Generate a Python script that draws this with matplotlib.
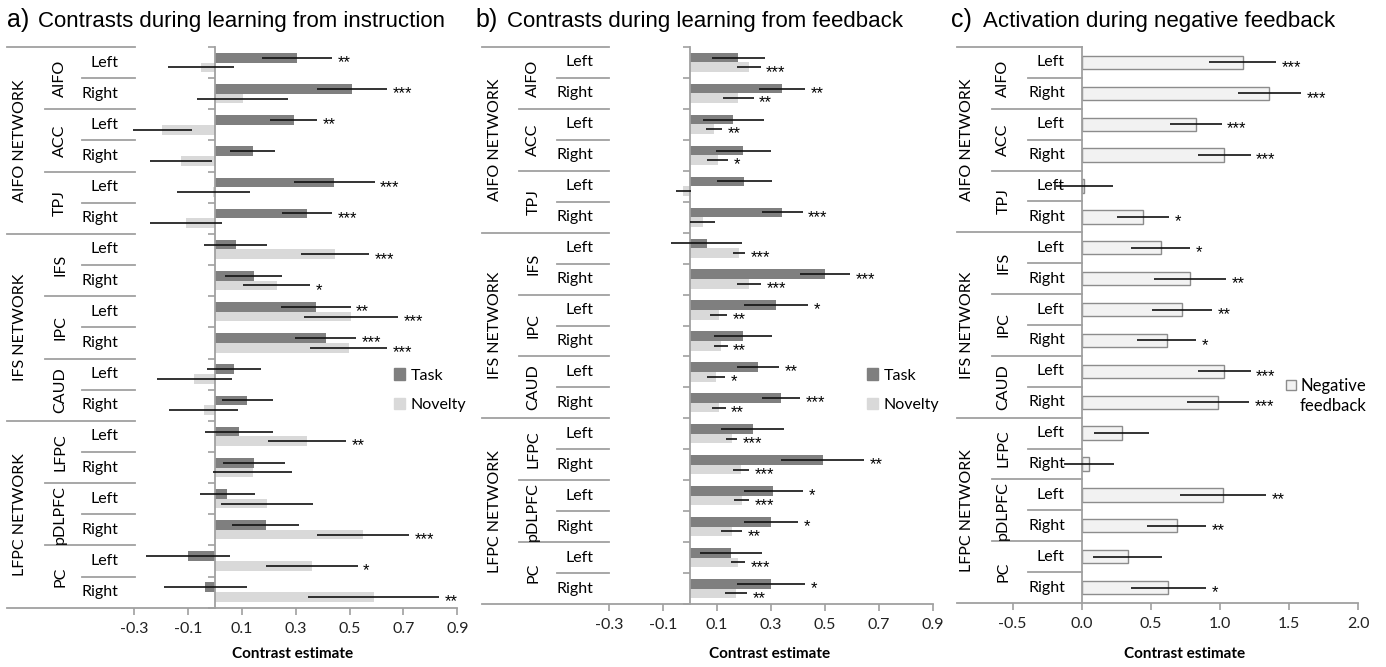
import matplotlib
matplotlib.use('Agg')
import matplotlib.pyplot as plt
from matplotlib.patches import Patch, Rectangle
from matplotlib.transforms import blended_transform_factory

plt.rcParams['font.family'] = ['Lato', 'DejaVu Sans']

networks = ['AIFO NETWORK', 'IFS NETWORK', 'LFPC NETWORK']
regions = ['AIFO', 'ACC', 'TPJ', 'IFS', 'IPC', 'CAUD', 'LFPC', 'pDLPFC', 'PC']
sides = ['Left', 'Right'] * 9

# a) learning from instruction
a_task = [0.305, 0.51, 0.293, 0.14, 0.443, 0.343, 0.077, 0.145, 0.374, 0.412, 0.072, 0.121,
          0.09, 0.145, 0.046, 0.189, -0.099, -0.035]
a_task_err = [0.13, 0.13, 0.088, 0.082, 0.15, 0.092, 0.118, 0.106, 0.13, 0.113, 0.1, 0.094,
              0.125, 0.115, 0.102, 0.124, 0.157, 0.155]
a_task_sig = ['**', '***', '**', '', '***', '***', '', '', '**', '***', '', '',
              '', '', '', '', '', '']
a_nov = [-0.052, 0.103, -0.195, -0.124, -0.006, -0.108, 0.447, 0.229, 0.505, 0.497, -0.076, -0.042,
         0.343, 0.14, 0.194, 0.551, 0.36, 0.59]
a_nov_err = [0.122, 0.17, 0.11, 0.115, 0.136, 0.133, 0.127, 0.124, 0.175, 0.143, 0.139, 0.128,
             0.144, 0.147, 0.172, 0.17, 0.17, 0.243]
a_nov_sig = ['', '', '', '', '', '', '***', '*', '***', '***', '', '',
             '**', '', '', '***', '*', '**']

# b) learning from feedback
b_task = [0.179, 0.342, 0.16, 0.197, 0.201, 0.342, 0.061, 0.5, 0.319, 0.197, 0.251, 0.337,
          0.232, 0.491, 0.309, 0.3, 0.151, 0.3]
b_task_err = [0.1, 0.085, 0.113, 0.102, 0.102, 0.075, 0.131, 0.094, 0.118, 0.107, 0.079, 0.071,
              0.117, 0.153, 0.11, 0.1, 0.115, 0.126]
b_task_sig = ['', '**', '', '', '', '***', '', '***', '*', '', '**', '***',
              '', '**', '*', '*', '', '*']
b_nov = [0.218, 0.179, 0.088, 0.102, -0.025, 0.046, 0.182, 0.218, 0.105, 0.113, 0.096, 0.105,
         0.154, 0.19, 0.191, 0.154, 0.179, 0.169]
b_nov_err = [0.043, 0.056, 0.029, 0.039, 0.027, 0.046, 0.023, 0.044, 0.031, 0.026, 0.032, 0.026,
             0.021, 0.03, 0.027, 0.038, 0.026, 0.041]
b_nov_sig = ['***', '**', '**', '*', '', '', '***', '***', '**', '**', '*', '**',
             '***', '***', '***', '**', '***', '**']

# c) negative feedback
c_neg = [1.164, 1.357, 0.827, 1.031, 0.02, 0.446, 0.571, 0.783, 0.723, 0.614, 1.031, 0.983,
         0.289, 0.053, 1.024, 0.687, 0.333, 0.627]
c_err = [0.24, 0.23, 0.185, 0.19, 0.205, 0.188, 0.215, 0.26, 0.217, 0.212, 0.19, 0.225,
         0.2, 0.18, 0.31, 0.213, 0.25, 0.27]
c_sig = ['***', '***', '***', '***', '', '*', '*', '**', '**', '*', '***', '***',
         '', '', '**', '**', '', '*']

ab_ticks = [-0.3, -0.1, 0.1, 0.3, 0.5, 0.7, 0.9]
ab_ticklabels = ['-0.3', '-0.1', '0.1', '0.3', '0.5', '0.7', '0.9']
c_ticks = [-0.5, 0.0, 0.5, 1.0, 1.5, 2.0]
c_ticklabels = ['-0.5', '0.0', '0.5', '1.0', '1.5', '2.0']

task_col = '#7f7f7f'
nov_col = '#d9d9d9'
neg_col = '#f2f2f2'
line_col = '#a0a0a0'
FS = 11.5

W, H = 1386, 667
fig = plt.figure(figsize=(W / 100, H / 100), dpi=100)


def fx(px):
    return px / W


def fy(py):
    return 1 - py / H


def make_ax(left, right, top, bottom):
    return fig.add_axes([fx(left), fy(bottom), (right - left) / W, (bottom - top) / H])


def draw_table(ax, zero, scale, tl, gl, sl, tr, net_x, grp_x, side_x, fs=FS):
    d = lambda px: (px - zero) / scale
    kw = dict(color=line_col, lw=1.3, clip_on=False)
    ax.plot([d(tl), d(tr)], [0, 0], **kw)
    for b in range(1, 18):
        if b % 6 == 0:
            x0 = tl
        elif b % 2 == 0:
            x0 = gl
        else:
            x0 = sl
        ax.plot([d(x0), d(tr)], [b, b], **kw)
    for k, n in enumerate(networks):
        ax.text(d(net_x), 3 + 6 * k, n, rotation=90, ha='center', va='center', fontsize=fs)
    for j, r in enumerate(regions):
        ax.text(d(grp_x), 2 * j + 1, r, rotation=90, ha='center', va='center', fontsize=fs)
    for i, s in enumerate(sides):
        ax.text(d(side_x), i + 0.5, s, ha='right', va='center', fontsize=fs)


def style_axis(ax, xmin, xmax, ticks, labels, xlab_x, yticks=True):
    ax.set_xlim(xmin, xmax)
    ax.set_ylim(18, 0)
    for s in ['top', 'right']:
        ax.spines[s].set_visible(False)
    ax.spines['left'].set_position(('data', 0))
    for s in ['left', 'bottom']:
        ax.spines[s].set_color(line_col)
        ax.spines[s].set_linewidth(1.3)
    ax.set_xticks(ticks)
    ax.set_xticklabels(labels)
    ax.tick_params(axis='x', direction='out', length=5, color=line_col, width=1.2,
                   labelsize=FS, pad=5, labelcolor='#222222')
    ax.set_yticks(range(19))
    ax.set_yticklabels([])
    ax.tick_params(axis='y', direction='out', length=5 if yticks else 0, color=line_col, width=1.2)
    tr = blended_transform_factory(ax.transData, fig.transFigure)
    ax.text(xlab_x, fy(654), 'Contrast estimate', transform=tr, ha='center', va='center',
            fontsize=11, fontweight='bold')


def stars(ax, vals, errs, pos, sig, fs=12):
    for v, e, y, s in zip(vals, errs, pos, sig):
        if s:
            ax.annotate(s, xy=(v + e, y), xytext=(4, -3.5), textcoords='offset points',
                        ha='left', va='center', fontsize=fs,
                        family=['Liberation Sans', 'DejaVu Sans'])


rows = [i + 0.5 for i in range(18)]
up = [r - 0.155 for r in rows]
dn = [r + 0.155 for r in rows]
eb = dict(fmt='none', ecolor='#111111', elinewidth=1.2, capsize=0, zorder=3)

# ---- panel a
axa = make_ax(7, 457.3, 47, 607.7)
za, sa = 214.8, 269.4
axa.barh(up, a_task, height=0.31, color=task_col, zorder=2)
axa.barh(dn, a_nov, height=0.31, color=nov_col, zorder=2)
axa.errorbar(a_task, up, xerr=a_task_err, **eb)
axa.errorbar(a_nov, dn, xerr=a_nov_err, **eb)
stars(axa, a_task, a_task_err, up, a_task_sig)
stars(axa, a_nov, a_nov_err, dn, a_nov_sig)
style_axis(axa, (7 - za) / sa, 0.9, ab_ticks, ab_ticklabels, 0.29)
draw_table(axa, za, sa, 7, 45, 82, 135, 20, 60, 118.3)
axa.legend(handles=[Patch(color=task_col), Patch(color=nov_col)], labels=['Task', 'Novelty'],
           loc='center left', bbox_to_anchor=(0.8594, 0.388), frameon=False, fontsize=11.5,
           handlelength=0.7, handleheight=0.7, handletextpad=0.35, labelspacing=0.95,
           borderpad=0, borderaxespad=0)

# ---- panel b
axb = make_ax(481.7, 932.7, 47, 604)
zb, sb = 690.2, 269.4
axb.barh(up, b_task, height=0.31, color=task_col, zorder=2)
axb.barh(dn, b_nov, height=0.31, color=nov_col, zorder=2)
axb.errorbar(b_task, up, xerr=b_task_err, **eb)
axb.errorbar(b_nov, dn, xerr=b_nov_err, **eb)
stars(axb, b_task, b_task_err, up, b_task_sig)
stars(axb, b_nov, b_nov_err, dn, b_nov_sig)
style_axis(axb, (481.7 - zb) / sb, 0.9, ab_ticks, ab_ticklabels, 0.296)
draw_table(axb, zb, sb, 481.7, 519.3, 557.3, 609.3, 495, 533.3, 593)
axb.legend(handles=[Patch(color=task_col), Patch(color=nov_col)], labels=['Task', 'Novelty'],
           loc='center left', bbox_to_anchor=(0.854, 0.384), frameon=False, fontsize=11.5,
           handlelength=0.7, handleheight=0.7, handletextpad=0.35, labelspacing=0.95,
           borderpad=0, borderaxespad=0)

# ---- panel c
axc = make_ax(956.7, 1358.3, 47, 603)
zc, sc = 1081.7, 138.3
axc.barh(rows, c_neg, height=0.43, color=neg_col, edgecolor='#8c8c8c', linewidth=1.0, zorder=2)
axc.errorbar(c_neg, rows, xerr=c_err, **eb)
stars(axc, c_neg, c_err, rows, c_sig)
style_axis(axc, (956.7 - zc) / sc, 2.0, c_ticks, c_ticklabels, 0.747, yticks=False)
draw_table(axc, zc, sc, 956.7, 991.7, 1027.7, 1081.7, 966.7, 1003.3, 1065)
fig.patches.append(Rectangle((fx(1286), fy(390)), 10 / W, 10 / H, transform=fig.transFigure,
                             facecolor=neg_col, edgecolor='#8c8c8c', lw=1.0))
fig.text(fx(1300), fy(386), 'Negative', ha='left', va='center', fontsize=12)
fig.text(fx(1300), fy(406), 'feedback', ha='left', va='center', fontsize=12)

# ---- titles
title_font = ['Liberation Sans', 'DejaVu Sans']
for x0, letter, txt in [(6.5, 'a)', 'Contrasts during learning from instruction'),
                        (475, 'b)', 'Contrasts during learning from feedback'),
                        (951, 'c)', 'Activation during negative feedback')]:
    fig.text(fx(x0), fy(27), letter, fontsize=18, family=title_font, va='baseline')
    fig.text(fx(x0 + 32), fy(27), txt, fontsize=16, family=title_font, va='baseline')

fig.savefig('out.png', dpi=100)
